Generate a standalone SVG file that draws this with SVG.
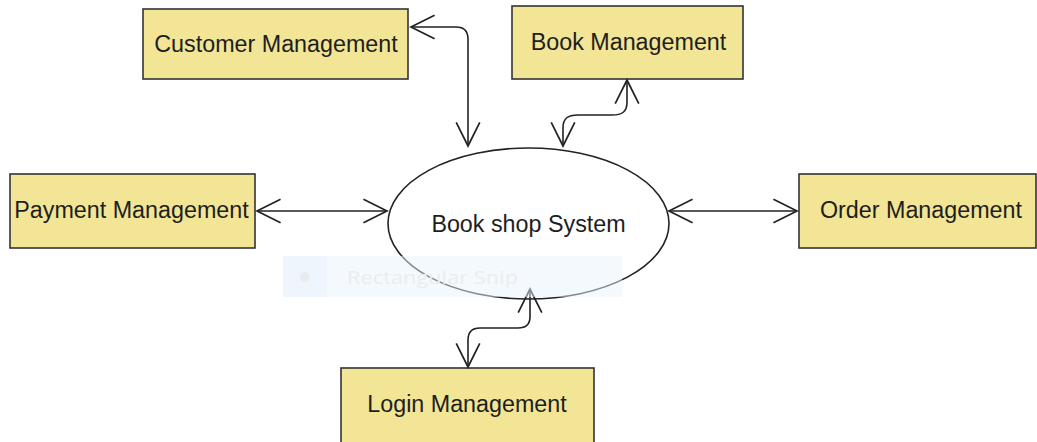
<svg xmlns="http://www.w3.org/2000/svg" width="1037" height="442" viewBox="0 0 1037 442">
  <style>
    .box { fill: #f2e596; stroke: #333333; stroke-width: 1.6; }
    .label { font-family: "Liberation Sans", Arial, sans-serif; font-size: 23.3px; fill: #1e1e1e; text-anchor: middle; }
    .link { fill: none; stroke: #222222; stroke-width: 1.6; marker-start: url(#open); marker-end: url(#open); }
    .center { fill: #ffffff; stroke: #222222; stroke-width: 1.6; }
  </style>
  <defs>
    <marker id="open" markerUnits="userSpaceOnUse" markerWidth="30" markerHeight="30" viewBox="-25 -14 28 28" refX="0" refY="0" orient="auto-start-reverse">
      <path d="M-22,-11 L0,0 L-22,11" fill="none" stroke="#222222" stroke-width="1.6"/>
    </marker>
  </defs>
  <rect width="1037" height="442" fill="#ffffff"/>

  <!-- central process -->
  <g id="book-shop-system">
    <ellipse class="center" cx="528.5" cy="223.5" rx="140.5" ry="75.5"/>
    <text class="label" x="528.5" y="232">Book shop System</text>
  </g>

  <!-- management modules -->
  <g id="customer-management">
    <rect class="box" x="143" y="9" width="265" height="70"/>
    <text class="label" x="276" y="51.5">Customer Management</text>
  </g>
  <g id="book-management">
    <rect class="box" x="512" y="6" width="231" height="73"/>
    <text class="label" x="628.5" y="49.5">Book Management</text>
  </g>
  <g id="payment-management">
    <rect class="box" x="10" y="174" width="245" height="74"/>
    <text class="label" x="131.5" y="217.5">Payment Management</text>
  </g>
  <g id="order-management">
    <rect class="box" x="799" y="174" width="237" height="74"/>
    <text class="label" x="921" y="217.5">Order Management</text>
  </g>
  <g id="login-management">
    <rect class="box" x="341" y="368" width="253" height="82"/>
    <text class="label" x="467" y="412">Login Management</text>
  </g>

  <!-- two-way data flows -->
  <g id="connectors">
    <path class="link" d="M411,27 L456,27 Q468,27 468,39 L468,146"/>
    <path class="link" d="M627,80 L627,102 C627,112 622,115 612,115 L578,115 C568,115 563,118 563,128 L563,146"/>
    <path class="link" d="M257,211 L387,211"/>
    <path class="link" d="M669,211 L797,211"/>
    <path class="link" d="M530,289 L530,317 C530,325 526,328 518,328 L480,328 C472,328 468,332 468,340 L468,367"/>
  </g>

  <!-- translucent tool bar across the lower part of the process -->
  <g id="snip-bar">
    <rect x="283" y="256" width="339" height="41" fill="#eaf3fc" opacity="0.5"/>
    <rect x="283" y="256" width="44" height="41" fill="#e4effa" opacity="0.35"/>
    <circle cx="305" cy="277" r="5" fill="#e8eaee"/>
    <text x="347" y="284" font-family="'Open Sans', 'Noto Sans', sans-serif" font-size="19" fill="#ececef" textLength="171" lengthAdjust="spacingAndGlyphs">Rectangular Snip</text>
  </g>
</svg>
